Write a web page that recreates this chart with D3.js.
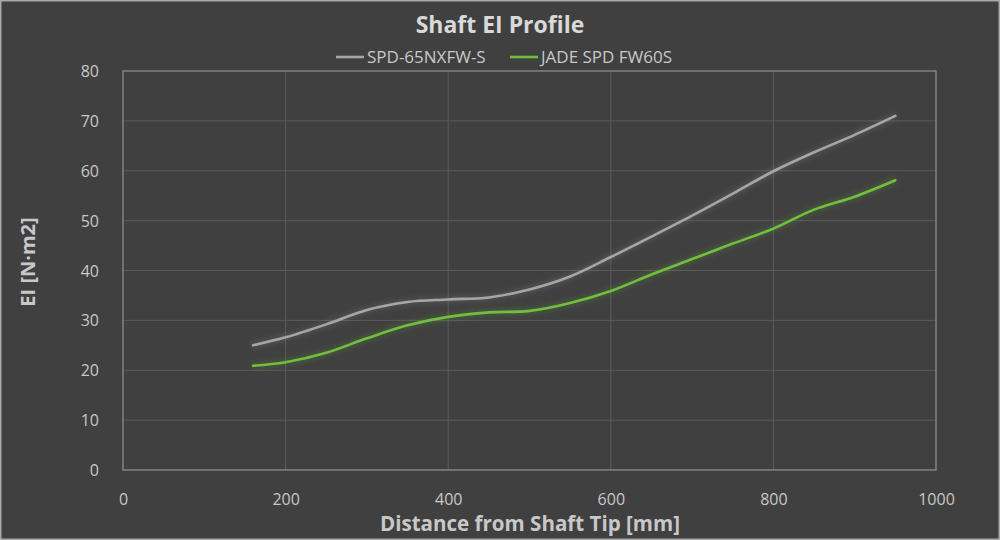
<!DOCTYPE html>
<html><head><meta charset="utf-8">
<script src="https://cdn.jsdelivr.net/npm/d3@7/dist/d3.min.js"></script>
<style>
html,body{margin:0;padding:0;background:#404040;}
svg{display:block;}
</style></head>
<body>
<svg id="chart" width="1000" height="540"></svg>
<script>
const distances = [160,200,250,300,350,400,450,500,550,600,650,700,750,800,850,900,950];
const spd65 = [25.0,26.6,29.2,32.1,33.7,34.2,34.6,36.2,38.8,42.7,46.8,51.0,55.4,59.9,63.7,67.2,71.0];
const jade60 = [20.9,21.6,23.5,26.4,29.0,30.7,31.6,31.9,33.5,35.9,39.2,42.3,45.4,48.4,52.2,54.8,58.1];
const seriesNames = ["SPD-65NXFW-S","JADE SPD FW60S"];
const seriesColors = ["#a6a6a6","#6fbf3e"];
const xTicks = [0,200,400,600,800,1000];
const yTicks = [0,10,20,30,40,50,60,70,80];

const svg = d3.select("#chart");
const W = 1000, H = 540;
const m = {left:123, right:64, top:71, bottom:70};

svg.append("rect").attr("x",0.75).attr("y",0.75).attr("width",W-1.5).attr("height",H-1.5)
  .attr("fill","#404040").attr("stroke","#a8a8a8").attr("stroke-width",1.5);

const defs = svg.append("defs");
seriesColors.forEach((c,i)=>{
  const f = defs.append("filter").attr("id","glow"+i).attr("x","-10%").attr("y","-20%").attr("width","120%").attr("height","140%");
  f.append("feGaussianBlur").attr("in","SourceGraphic").attr("stdDeviation",3).attr("result","b");
  f.append("feComponentTransfer").attr("in","b").attr("result","b2")
    .append("feFuncA").attr("type","linear").attr("slope",0.45);
  const mg = f.append("feMerge");
  mg.append("feMergeNode").attr("in","b2");
  mg.append("feMergeNode").attr("in","SourceGraphic");
});

const x = d3.scaleLinear().domain([0,1000]).range([m.left, W-m.right]);
const y = d3.scaleLinear().domain([0,80]).range([H-m.bottom, m.top]);

// gridlines
const grid = svg.append("g");
grid.selectAll(".gx").data(xTicks.slice(1,-1)).enter().append("line")
  .attr("x1",d=>x(d)).attr("x2",d=>x(d)).attr("y1",y(0)).attr("y2",y(80))
  .attr("stroke","#5a5a5a").attr("stroke-width",1);
grid.selectAll(".gy").data(yTicks.slice(1,-1)).enter().append("line")
  .attr("x1",x(0)).attr("x2",x(1000)).attr("y1",d=>y(d)).attr("y2",d=>y(d))
  .attr("stroke","#5a5a5a").attr("stroke-width",1);
svg.append("rect").attr("x",x(0)).attr("y",y(80)).attr("width",x(1000)-x(0)).attr("height",y(0)-y(80))
  .attr("fill","none").attr("stroke","#8c8c8c").attr("stroke-width",1.3);

const font = "'Open Sans', 'Segoe UI', sans-serif";
const xAxis = svg.append("g").attr("transform",`translate(0,${y(0)+21})`)
  .call(d3.axisBottom(x).tickValues(xTicks).tickSize(0).tickFormat(d3.format("d")));
xAxis.select(".domain").remove();
xAxis.selectAll("text").attr("fill","#c8c8c8").attr("font-size",16).attr("font-family",font);

const yAxis = svg.append("g").attr("transform",`translate(${x(0)-21},0)`)
  .call(d3.axisLeft(y).tickValues(yTicks).tickSize(0).tickFormat(d3.format("d")));
yAxis.select(".domain").remove();
yAxis.selectAll("text").attr("fill","#c8c8c8").attr("font-size",16).attr("font-family",font).attr("dy","0.35em");

// lines
const line = d3.line().x((d,i)=>x(distances[i])).y(d=>y(d)).curve(d3.curveCatmullRom.alpha(0.5));
[spd65, jade60].forEach((vals,i)=>{
  svg.append("path").datum(vals).attr("d",line).attr("fill","none")
    .attr("stroke",seriesColors[i]).attr("stroke-width",2.6).attr("stroke-linecap","round")
    .attr("filter",`url(#glow${i})`);
});

// title
svg.append("text").attr("x",500).attr("y",33).attr("text-anchor","middle")
  .attr("font-family",font).attr("font-weight","bold").attr("font-size",23).attr("fill","#d9d9d9")
  .text("Shaft EI Profile");

// legend
const legX = [336, 510];
seriesNames.forEach((n,i)=>{
  const g = svg.append("g");
  g.append("line").attr("x1",legX[i]).attr("x2",legX[i]+28).attr("y1",57).attr("y2",57)
    .attr("stroke",seriesColors[i]).attr("stroke-width",2.6);
  g.append("text").attr("x",legX[i]+31).attr("y",57).attr("dy","0.35em")
    .attr("font-family",font).attr("font-size",17).attr("fill","#c8c8c8").text(n);
});

// axis titles
svg.append("text").attr("x",530).attr("y",531).attr("text-anchor","middle")
  .attr("font-family",font).attr("font-weight","bold").attr("font-size",21).attr("fill","#c8c8c8")
  .attr("textLength",300).attr("lengthAdjust","spacingAndGlyphs")
  .text("Distance from Shaft Tip [mm]");
svg.append("text").attr("transform","translate(35,262) rotate(-90)").attr("text-anchor","middle")
  .attr("font-family",font).attr("font-weight","bold").attr("font-size",20).attr("fill","#c8c8c8")
  .text("EI [N·m2]");
</script>
</body></html>
